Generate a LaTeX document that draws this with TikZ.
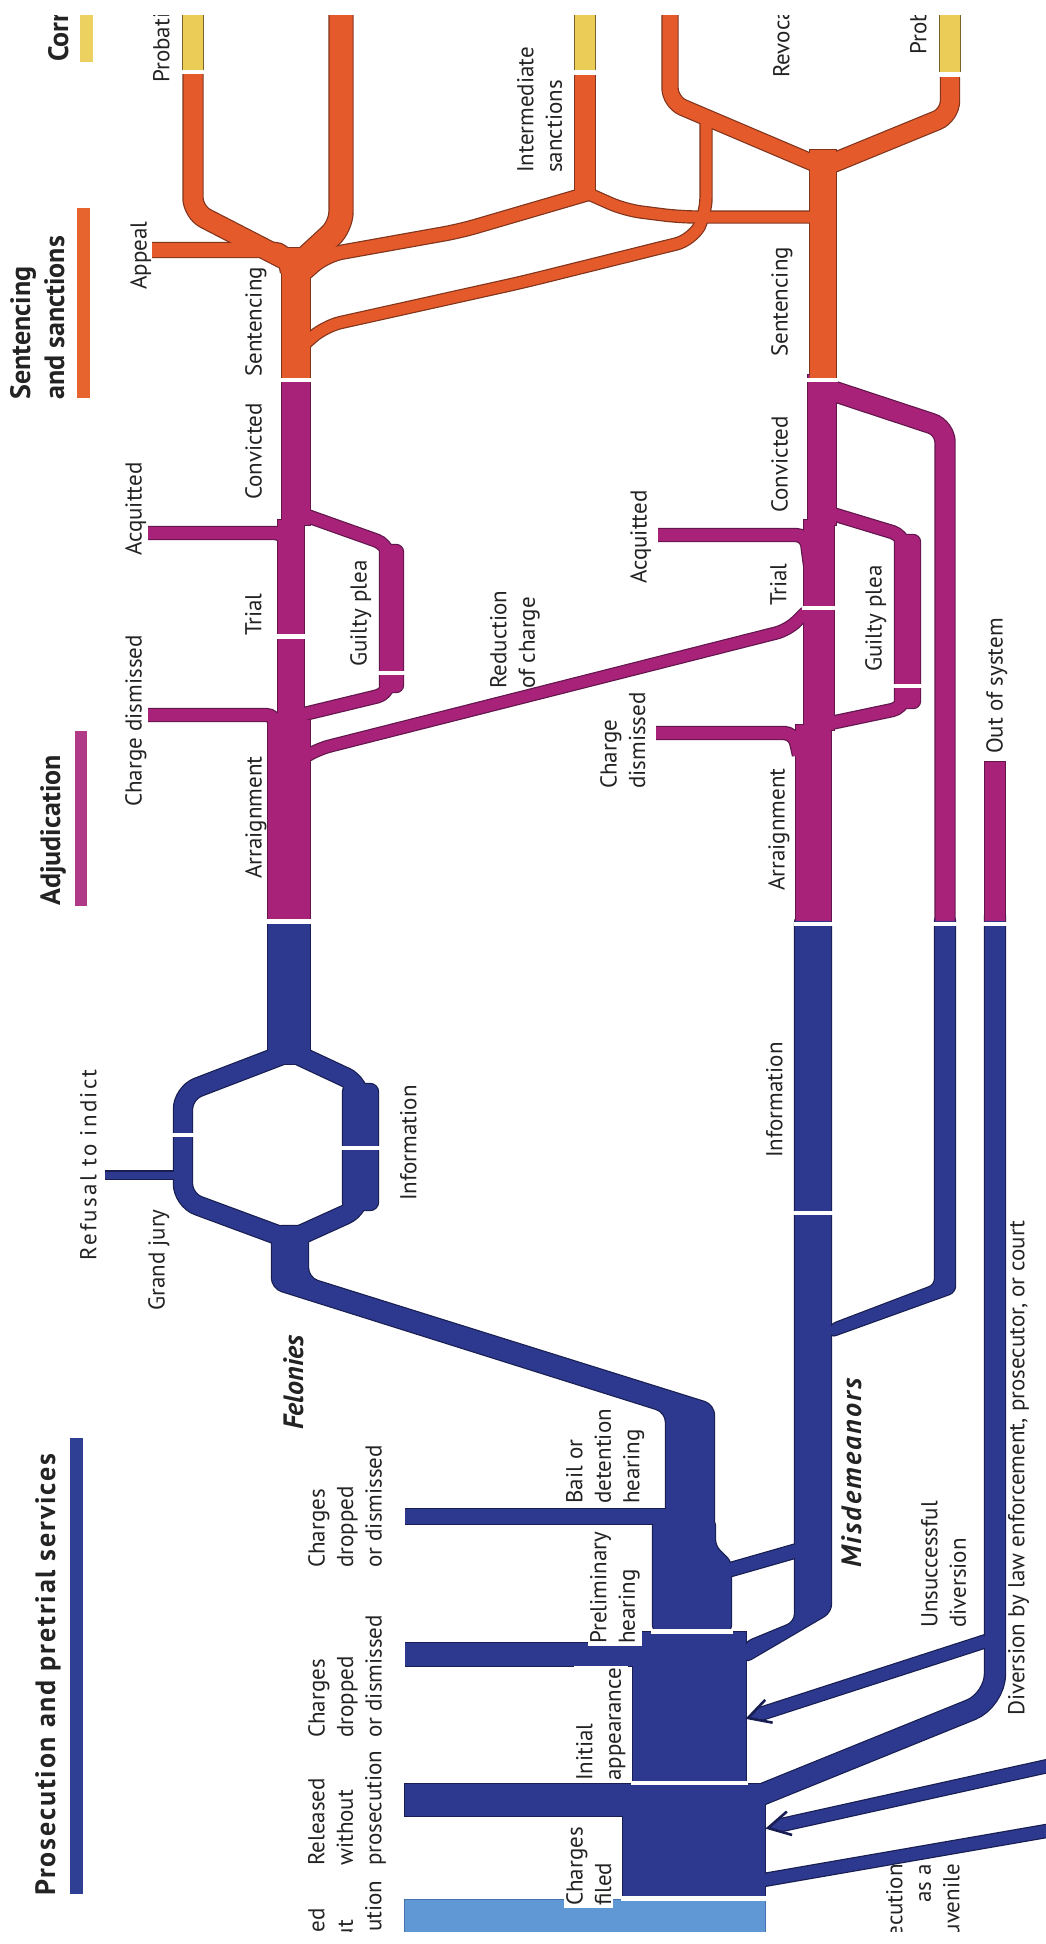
\documentclass[tikz,border=0pt]{standalone}
\usepackage{fontspec}
\setmainfont{PT Sans}
\usetikzlibrary{calc}
\definecolor{bluF}{RGB}{44,57,142}
\definecolor{bluO}{RGB}{24,30,82}
\definecolor{purF}{RGB}{168,34,122}
\definecolor{purO}{RGB}{98,22,76}
\definecolor{oraF}{RGB}{228,90,42}
\definecolor{oraO}{RGB}{128,52,28}
\definecolor{yelF}{RGB}{234,204,86}
\definecolor{yelO}{RGB}{120,100,40}
\definecolor{lbF}{RGB}{96,152,214}
\definecolor{lbO}{RGB}{70,115,175}
\definecolor{txt}{RGB}{35,35,35}
\definecolor{legB}{RGB}{47,63,147}
\definecolor{legP}{RGB}{176,58,135}
\definecolor{legO}{RGB}{232,100,46}
\definecolor{legY}{RGB}{236,209,96}

\newcommand\OutlinePass{\tikzset{
  bb/.style={draw=bluO,line width={(##1+2.4)*1pt}},
  pb/.style={draw=purO,line width={(##1+2.4)*1pt}},
  ob/.style={draw=oraO,line width={(##1+2.4)*1pt}},
  bblk/.style={fill=bluO,draw=bluO,line width=2.4pt},
  pblk/.style={fill=purO,draw=purO,line width=2.4pt},
  oblk/.style={fill=oraO,draw=oraO,line width=2.4pt},
  yblk/.style={fill=yelO,draw=yelO,line width=2.4pt},
  lblk/.style={fill=lbO,draw=lbO,line width=2.4pt}}}
\newcommand\FillPass{\tikzset{
  bb/.style={draw=bluF,line width={##1*1pt}},
  pb/.style={draw=purF,line width={##1*1pt}},
  ob/.style={draw=oraF,line width={##1*1pt}},
  bblk/.style={fill=bluF},
  pblk/.style={fill=purF},
  oblk/.style={fill=oraF},
  yblk/.style={fill=yelF},
  lblk/.style={fill=lbF}}}

\newcommand\FlowShapes{%
% ---------------- blue: prosecution and pretrial
\path[bblk] (268,915) rectangle (310,1064);
\path[bb=18,rounded corners=16] (282,1055) -- (183,1093) -- (183,1200) -- (283,1237);
\path[bb=18,rounded corners=16] (298,1055) -- (360,1084) -- (360,1208) -- (296,1237);
\path[bblk,rounded corners=8] (343,1084) rectangle (378,1210);
\path[bb=7] (105,1175) -- (180,1175);
\path[bblk,rounded corners=10] (272,1226) -- (308,1226) -- (308,1278) -- (714,1405) -- (714,1560) -- (666,1560) -- (666,1412) -- (272,1288) -- cycle;
\path[bb=15] (405,1516.5) -- (672,1516.5);
\path[bblk,rounded corners=6] (653,1520) -- (715,1520) -- (715,1546) -- (731,1562) -- (731,1631) -- (653,1631) -- cycle;
\path[bb=13] (722,1572) -- (806,1548);
\path[bb=23] (405,1654.5) -- (652,1654.5);
\path[bblk] (633,1632) rectangle (746,1783);
\path[bblk,rounded corners=8] (795,915) -- (831,915) -- (831,1612) -- (744,1663) -- (744,1643) -- (795,1622) -- cycle;
\path[bblk] (405,1784) rectangle (640,1816);
\path[bblk] (623,1784) rectangle (765,1898);
\path[bblk,rounded corners=6] (935,915) -- (955,915) -- (955,1292) -- (830,1337) -- (830,1325) -- (935,1285) -- cycle;
\path[bb=20,rounded corners=26] (995,915) -- (995,1700) -- (758,1796);
\path[bb=12] (ua0) -- (uaE);
\path[bb=12] (ra0) -- (raE);
\path[bb=12] (jv0) -- (jv1);
\path[lblk] (405,1900) rectangle (765,1945);
% ---------------- purple: adjudication
\path[pblk] (282,375) rectangle (310,525);
\path[pblk] (278,520) rectangle (304,725);
\path[pblk] (268,720) rectangle (310,921);
\path[pb=12,rounded corners=10] (148,533) -- (285,533) -- (288,565);
\path[pb=12,rounded corners=10] (148,715) -- (276,715) -- (280,748);
\path[pb=12,rounded corners=10] (296,512) -- (386,544) -- (391,565);
\path[pblk,rounded corners=7] (380,545) rectangle (403,692);
\path[pb=12,rounded corners=10] (391,670) -- (387,694) -- (296,716);
\path[pb=11,rounded corners=12] (300,760) -- (318,749) -- (788,630) -- (806,612);
\path[pblk] (808,375) rectangle (836,525);
\path[pblk] (804,520) rectangle (834,730);
\path[pblk] (796,725) rectangle (831,921);
\path[pb=12,rounded corners=10] (658,535) -- (806,535) -- (810,565);
\path[pb=12,rounded corners=10] (656,733) -- (794,733) -- (799,755);
\path[pb=12,rounded corners=10] (826,512) -- (902,535) -- (907,555);
\path[pblk,rounded corners=7] (895,535) rectangle (920,708);
\path[pb=12,rounded corners=10] (907,690) -- (902,708) -- (826,724);
\path[pb=19,rounded corners=14] (830,390) -- (945,428) -- (945,921);
\path[pblk] (985,762) rectangle (1005,921);
% ---------------- orange: sentencing and sanctions
\path[oblk] (282,248) rectangle (310,382);
\path[ob=19,rounded corners=14] (290,262) -- (193,212) -- (193,8);
\path[ob=23,rounded corners=14] (302,262) -- (341,226) -- (341,8);
\path[ob=14,rounded corners=9] (152,250) -- (284,250) -- (288,272);
\path[ob=13,rounded corners=16] (302,276) -- (326,255) -- (460,231) -- (590,193);
\path[ob=20] (585,8) -- (585,198);
\path[ob=11,rounded corners=16] (580,190) -- (625,210) -- (680,217) -- (822,217);
\path[ob=11,rounded corners=16] (300,348) -- (325,326) -- (523,282) -- (692,240) -- (706,214) -- (706,112);
\path[oblk] (810,150) rectangle (836,382);
\path[ob=15,rounded corners=14] (818,165) -- (670,102) -- (670,8);
\path[ob=18,rounded corners=14] (828,165) -- (950,115) -- (950,8);
% ---------------- yellow: corrections
\path[yblk] (183,8) rectangle (203,71);
\path[yblk] (575,8) rectangle (595,71);
\path[yblk] (940,8) rectangle (960,73);
}

\begin{document}
\begin{tikzpicture}[x=1pt,y=-1pt,
  lab/.style={font=\fontsize{23}{28.5}\selectfont,text=txt,rotate=90,anchor=north west,inner sep=0pt,align=left},
  wlab/.style={lab,fill=white,inner sep=2pt},
  ttl/.style={font=\fontsize{28}{34}\selectfont\bfseries,text=txt,rotate=90,anchor=north west,inner sep=0pt,align=left},
  ttli/.style={font=\fontsize{28}{34}\selectfont\bfseries\itshape,text=txt,rotate=90,anchor=north west,inner sep=0pt,align=left},
  sep/.style={fill=white}]
\useasboundingbox (0,0) rectangle (1046,1944);
\fill[white] (0,0) rectangle (1046,1944);

% named end points of the free-ended connectors
\coordinate (ua0) at (986,1641);
\coordinate (uaT) at (748,1718);
\coordinate (uaE) at ($(uaT)!11pt!(ua0)$);
\coordinate (uaP) at ($(uaE)!6pt!90:(uaT)$);
\coordinate (uaQ) at ($(uaE)!6pt!-90:(uaT)$);
\coordinate (uaB) at ($(uaT)!22pt!(ua0)$);
\coordinate (uaA1) at ($(uaB)!12pt!90:(uaT)$);
\coordinate (uaA2) at ($(uaB)!12pt!-90:(uaT)$);
\coordinate (ra0) at (1052,1765);
\coordinate (raT) at (768,1828);
\coordinate (raE) at ($(raT)!11pt!(ra0)$);
\coordinate (raP) at ($(raE)!6pt!90:(raT)$);
\coordinate (raQ) at ($(raE)!6pt!-90:(raT)$);
\coordinate (raB) at ($(raT)!22pt!(ra0)$);
\coordinate (raA1) at ($(raB)!12pt!90:(raT)$);
\coordinate (raA2) at ($(raB)!12pt!-90:(raT)$);
\coordinate (jv0) at (758,1881);
\coordinate (jv1) at (1052,1830);

\begin{scope}
\clip (0,15) rectangle (1046,1931);
\OutlinePass\FlowShapes
\FillPass\FlowShapes
% stage separators
\fill[sep] (181,70) rectangle (205,73.5);
\fill[sep] (573,70) rectangle (597,74.5);
\fill[sep] (938,72) rectangle (962,76.5);
\fill[sep] (280,378) rectangle (312,382);
\fill[sep] (806,377.5) rectangle (838,382);
\fill[sep] (276,634) rectangle (306,638.5);
\fill[sep] (378,671) rectangle (405,674.5);
\fill[sep] (802,606) rectangle (836,610);
\fill[sep] (893,684) rectangle (922,688);
\fill[sep] (266,919) rectangle (312,923.5);
\fill[sep] (794,921.5) rectangle (833,926);
\fill[sep] (933,921.5) rectangle (958,926);
\fill[sep] (983,921.5) rectangle (1007,926);
\fill[sep] (171,1133) rectangle (195,1136.5);
\fill[sep] (341,1146) rectangle (380,1150);
\fill[sep] (793,1211) rectangle (833,1215);
\fill[sep] (651,1629) rectangle (733,1633.5);
\fill[sep] (631,1781) rectangle (748,1785);
\fill[sep] (621,1896) rectangle (767,1900.5);
% arrow heads
\fill[bluF] (uaT) -- (uaP) -- (uaQ) -- cycle;
\draw[bluO,line width=2.6pt] (uaA1) -- (uaT) -- (uaA2);
\fill[bluF] (raT) -- (raP) -- (raQ) -- cycle;
\draw[bluO,line width=2.6pt] (raA1) -- (raT) -- (raA2);
% legend bars
\fill[legY] (80,15) rectangle (93,62);
\fill[legO] (77,208) rectangle (90,398);
\fill[legP] (75,731) rectangle (87,906);
\fill[legB] (70,1438) rectangle (83,1894);
% titles
\node[ttl] (t-cor) at (48,62) {Corrections};
\node[ttl] (t-sent) at (10,400) {Sentencing\\and sanctions};
\node[ttl] (t-adj) at (40,906) {Adjudication};
\node[ttl] (t-pros) at (35,1896) {\addfontfeature{LetterSpace=6.5}Prosecution and pretrial services};
\node[ttli] (t-fel) at (283,1430) {Felonies};
\node[ttli] (t-mis) at (841,1568) {\addfontfeature{LetterSpace=8}Misdemeanors};
% labels
\node[lab] (l-probA) at (153,83) {Probation};
\node[lab] (l-appeal) at (130,290) {Appeal};
\node[lab] (l-sentF) at (245,377) {Sentencing};
\node[lab] (l-convF) at (245,500) {Convicted};
\node[lab] (l-acqF) at (125,556) {Acquitted};
\node[lab] (l-trialF) at (245,636) {Trial};
\node[lab] (l-gpF) at (350,667) {Guilty plea};
\node[lab] (l-cdF) at (125,807) {Charge dismissed};
\node[lab] (l-arrF) at (245,879) {Arraignment};
\node[lab] (l-red) at (490,689) {Reduction\\of charge};
\node[lab] (l-inter) at (517,173) {Intermediate\\sanctions};
\node[lab] (l-revoc) at (773,78) {Revocation};
\node[lab] (l-probB) at (910,55) {Probation};
\node[lab] (l-sentM) at (771,357) {Sentencing};
\node[lab] (l-convM) at (771,513) {Convicted};
\node[lab] (l-acqM) at (630,584) {Acquitted};
\node[lab] (l-trialM) at (770,606) {Trial};
\node[lab] (l-gpM) at (865,672) {Guilty plea};
\node[lab] (l-cdM) at (600,789) {Charge\\dismissed};
\node[lab] (l-arrM) at (768,891) {Arraignment};
\node[lab] (l-oos) at (986,754) {Out of system};
\node[lab] (l-ref) at (80,1261) {\addfontfeature{LetterSpace=10}Refusal to indict};
\node[lab] (l-gj) at (148,1311) {Grand jury};
\node[lab] (l-infoF) at (400,1201) {Information};
\node[lab] (l-infoM) at (766,1158) {Information};
\node[lab] (l-cdd1) at (308,1568) {Charges\\dropped\\or dismissed};
\node[lab] (l-bail) at (566,1504) {Bail or\\detention\\hearing};
\node[lab] (l-cdd2) at (308,1738) {Charges\\dropped\\or dismissed};
\node[wlab] (l-prel) at (588,1646) {Preliminary\\hearing};
\node[lab] (l-uns) at (921,1628) {Unsuccessful\\diversion};
\node[lab] (l-div) at (1008,1716) {Diversion by law enforcement, prosecutor, or court};
\node[lab] (l-rel) at (308,1866) {Released\\without\\prosecution};
\node[wlab] (l-ia) at (574,1783) {Initial\\appearance};
\node[wlab] (l-cf) at (564,1908) {Charges\\filed};
\node[lab] (l-rel2) at (308,1996) {Released\\without\\prosecution};
\node[lab,anchor=north east,align=right] (l-juv) at (886,1864) {Prosecution\\as a\\juvenile};
\end{scope}
\end{tikzpicture}
\end{document}
